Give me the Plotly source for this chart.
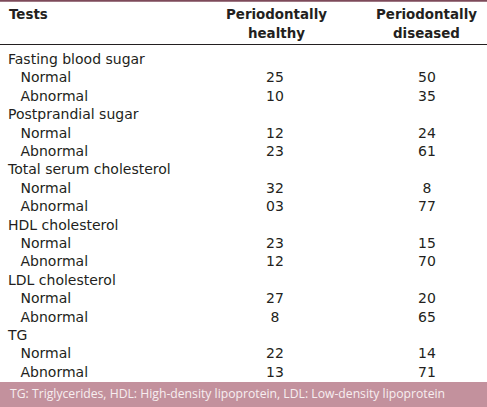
import plotly.graph_objects as go

groups = ["Fasting blood sugar", "Postprandial sugar", "Total serum cholesterol",
          "HDL cholesterol", "LDL cholesterol", "TG"]
levels = ["Normal", "Abnormal"]
healthy = ["25", "10", "12", "23", "32", "03", "23", "12", "27", "8", "22", "13"]
diseased = ["50", "35", "24", "61", "8", "77", "15", "70", "20", "65", "14", "71"]
header_line1 = ["Tests", "Periodontally", "Periodontally"]
header_line2 = ["", "healthy", "diseased"]
footnote = "TG: Triglycerides, HDL: High-density lipoprotein, LDL: Low-density lipoprotein"

W, H = 487, 407
ROW0, STEP = 60.5, 18.4

group_rows, sub_rows, sub_labels, h_vals, d_vals = [], [], [], [], []
r = 0
k = 0
for g in groups:
    group_rows.append(r)
    r += 1
    for lv in levels:
        sub_rows.append(r)
        sub_labels.append(lv)
        h_vals.append(healthy[k])
        d_vals.append(diseased[k])
        k += 1
        r += 1

FONT = "DejaVu Sans, sans-serif"
TXT = "#231f20"
fs = 14


def py(p):
    return (p - ROW0) / STEP


fig = go.Figure()
fig.add_trace(go.Scatter(x=[8] * len(group_rows), y=group_rows, text=groups, mode="text",
                         textposition="middle right", textfont=dict(family=FONT, size=fs, color=TXT),
                         hoverinfo="skip"))
fig.add_trace(go.Scatter(x=[20.5] * len(sub_rows), y=sub_rows, text=sub_labels, mode="text",
                         textposition="middle right", textfont=dict(family=FONT, size=fs, color=TXT),
                         hoverinfo="skip"))
fig.add_trace(go.Scatter(x=[275] * len(sub_rows), y=sub_rows, text=h_vals, mode="text",
                         textposition="middle center", textfont=dict(family=FONT, size=fs, color=TXT),
                         hoverinfo="skip"))
fig.add_trace(go.Scatter(x=[427] * len(sub_rows), y=sub_rows, text=d_vals, mode="text",
                         textposition="middle center", textfont=dict(family=FONT, size=fs, color=TXT),
                         hoverinfo="skip"))

y_top = py(0)
y_bot = py(H)

hdr_x = [7, 276, 426]
hdr_anchor = ["left", "center", "center"]
for t1, t2, x, a in zip(header_line1, header_line2, hdr_x, hdr_anchor):
    fig.add_annotation(x=x, y=py(14.5), xref="x", yref="y", text="<b>%s</b>" % t1,
                       showarrow=False, xanchor=a, yanchor="middle",
                       font=dict(family=FONT, size=13.4, color=TXT))
    if t2:
        fig.add_annotation(x=x, y=py(33), xref="x", yref="y", text="<b>%s</b>" % t2,
                           showarrow=False, xanchor=a, yanchor="middle",
                           font=dict(family=FONT, size=13.4, color=TXT))

shapes = [
    dict(type="line", xref="paper", yref="y", x0=0, x1=1,
         y0=py(0.8), y1=py(0.8), line=dict(color="#7d4a5a", width=2)),
    dict(type="line", xref="paper", yref="y", x0=0, x1=1,
         y0=py(44.5), y1=py(44.5), line=dict(color="#231f20", width=1)),
    dict(type="rect", xref="paper", yref="y", x0=0, x1=1,
         y0=py(382), y1=py(H + 5), line=dict(width=0), fillcolor="#c3919d"),
]
fig.update_layout(shapes=shapes)
fig.add_annotation(x=8, y=py(393.5), xref="x", yref="y", text=footnote,
                   showarrow=False, xanchor="left", yanchor="middle",
                   font=dict(family="Open Sans, sans-serif", size=12.2, color="#f7eef0"))

fig.update_layout(
    width=W, height=H, margin=dict(l=0, r=0, t=0, b=0),
    paper_bgcolor="white", plot_bgcolor="white", showlegend=False,
    xaxis=dict(range=[0, W], visible=False, fixedrange=True),
    yaxis=dict(range=[y_bot, y_top], visible=False, fixedrange=True),
)
fig.write_html("out.html", config={"displayModeBar": False},
               post_script="document.body.style.margin='0';document.body.style.overflow='hidden';")
